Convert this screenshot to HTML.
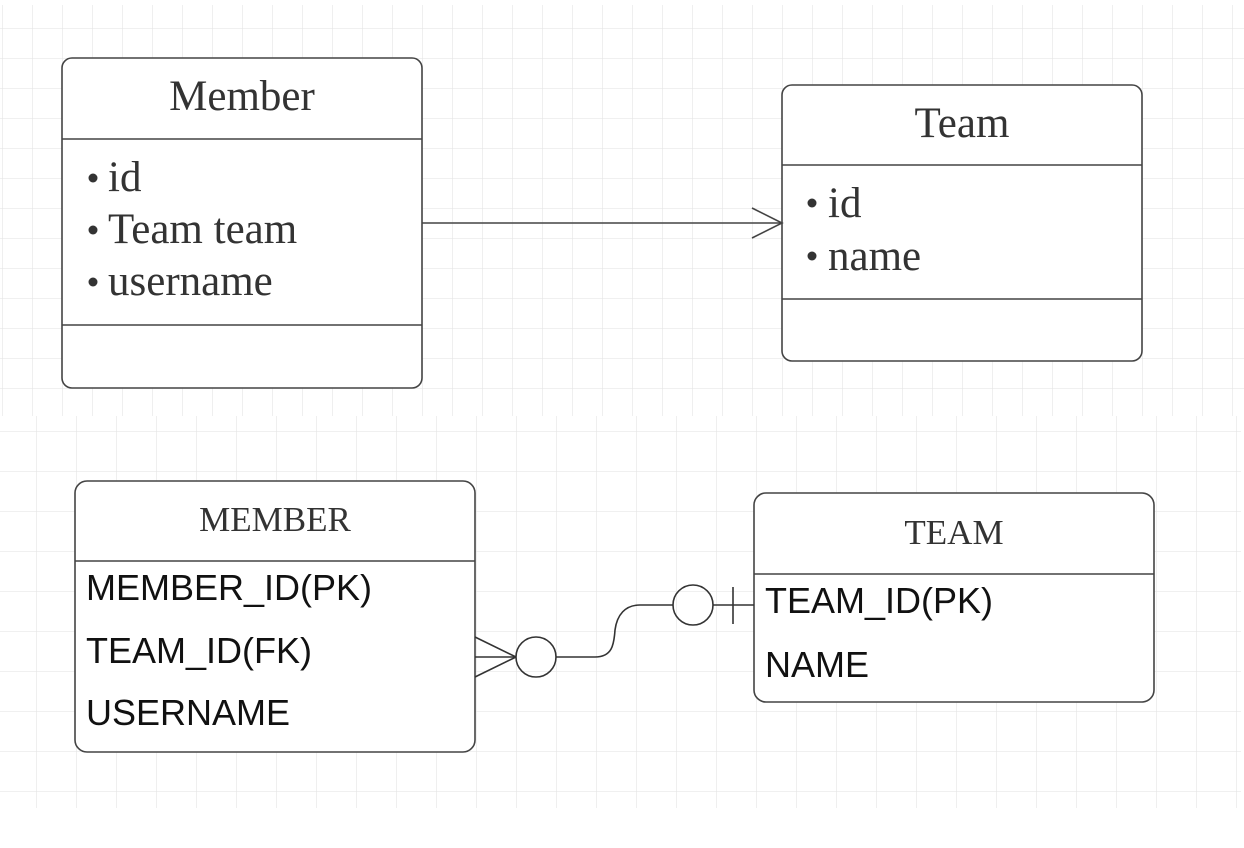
<!DOCTYPE html>
<html><head><meta charset="utf-8"><style>
html,body{margin:0;padding:0;background:#fff;}
svg{display:block;}
.s{font-family:"Liberation Serif",serif;fill:#333;}
.a{font-family:"Liberation Sans",Arial,sans-serif;fill:#111;}
</style></head><body>
<svg width="1244" height="848" viewBox="0 0 1244 848" xmlns="http://www.w3.org/2000/svg">
<defs>
<pattern id="g1" x="2" y="-2" width="30" height="30" patternUnits="userSpaceOnUse">
<path d="M0 0V30M0 0H30" stroke="#e6e6e6" stroke-width="1.3" fill="none"/>
</pattern>
<pattern id="g2" x="36" y="431" width="40" height="40" patternUnits="userSpaceOnUse">
<path d="M0 0V40M0 0H40" stroke="#e6e6e6" stroke-width="1.3" fill="none"/>
</pattern>
</defs>
<rect x="0" y="5" width="1244" height="411" fill="url(#g1)"/>
<rect x="0" y="416" width="1241" height="392" fill="url(#g2)"/>

<g stroke="#444" stroke-width="1.6" fill="#fff">
<rect x="62" y="58" width="360" height="330" rx="10"/>
<line x1="62" y1="139" x2="422" y2="139"/>
<line x1="62" y1="325" x2="422" y2="325"/>
<rect x="782" y="85" width="360" height="276" rx="10"/>
<line x1="782" y1="165" x2="1142" y2="165"/>
<line x1="782" y1="299" x2="1142" y2="299"/>
<line x1="422" y1="223" x2="782" y2="223"/>
<polyline points="752,208 782,223 752,238" fill="none"/>

<rect x="75" y="481" width="400" height="271" rx="12"/>
<line x1="75" y1="561" x2="475" y2="561"/>
<rect x="754" y="493" width="400" height="209" rx="12"/>
<line x1="754" y1="574" x2="1154" y2="574"/>

<g fill="none" stroke="#333">
<line x1="475" y1="637" x2="516" y2="657"/>
<line x1="475" y1="657" x2="516" y2="657"/>
<line x1="475" y1="677" x2="516" y2="657"/>
<circle cx="536" cy="657" r="20"/>
<path d="M556 657 H595 C612 657 614 645 615 630 C617 615 625 605 640 605 H673"/>
<circle cx="693" cy="605" r="20"/>
<line x1="713" y1="605" x2="754" y2="605"/>
<line x1="733" y1="587" x2="733" y2="624"/>
</g>
</g>

<g fill="#333">
<circle cx="93" cy="178" r="4.5"/>
<circle cx="93" cy="230" r="4.5"/>
<circle cx="93" cy="282" r="4.5"/>
<circle cx="812" cy="203" r="4.5"/>
<circle cx="812" cy="256" r="4.5"/>
</g>

<text class="s" x="242" y="110" font-size="43" text-anchor="middle">Member</text>
<g class="s" font-size="43">
<text x="108" y="191">id</text>
<text x="108" y="243">Team team</text>
<text x="108" y="295">username</text>
</g>
<text class="s" x="962" y="137" font-size="43" text-anchor="middle">Team</text>
<g class="s" font-size="43">
<text x="828" y="217">id</text>
<text x="828" y="270">name</text>
</g>

<text class="s" x="275" y="531" font-size="35" text-anchor="middle">MEMBER</text>
<g class="a" font-size="36">
<text x="86" y="600">MEMBER_ID(PK)</text>
<text x="86" y="663">TEAM_ID(FK)</text>
<text x="86" y="725">USERNAME</text>
</g>
<text class="s" x="954" y="544" font-size="35" text-anchor="middle">TEAM</text>
<g class="a" font-size="36">
<text x="765" y="613">TEAM_ID(PK)</text>
<text x="765" y="677">NAME</text>
</g>
</svg>
</body></html>
